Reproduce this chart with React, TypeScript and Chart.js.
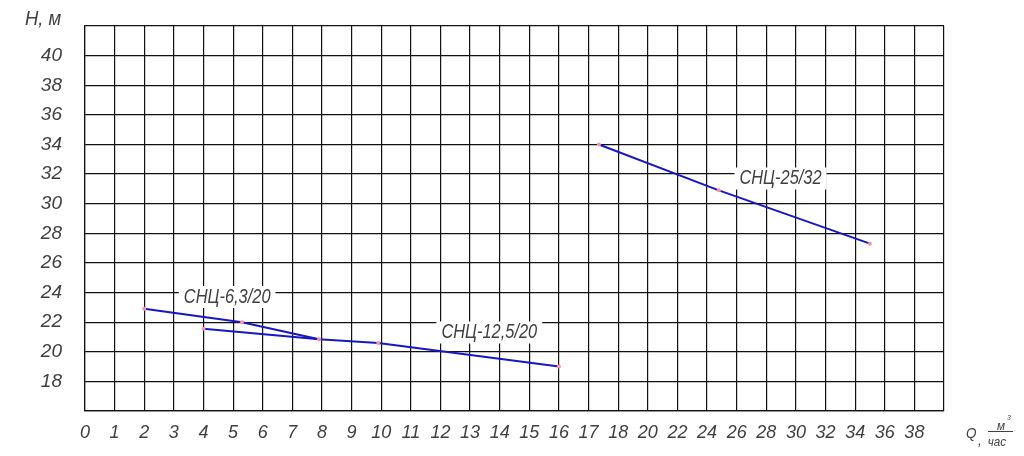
import React, { useEffect, useRef } from "react";
import { Chart, registerables } from "chart.js";

Chart.register(...registerables);

// X axis tick labels (grid index -> printed Q value)
const xTickLabels = [
  "0", "1", "2", "3", "4", "5", "6", "7", "8", "9", "10", "11", "12", "13", "14",
  "15", "16", "17", "18", "20", "22", "24", "26", "28", "30", "32", "34", "36", "38",
];
// Y axis tick labels
const yTickLabels = [18, 20, 22, 24, 26, 28, 30, 32, 34, 36, 38, 40];

// Series: Q (m3/h) and H (m)
const seriesNames = ["СНЦ-6,3/20", "СНЦ-12,5/20", "СНЦ-25/32"];
const q63 = [2, 5.3, 7.9];
const h63 = [22.9, 22.0, 20.85];
const q125 = [4, 7.9, 9.9, 16];
const h125 = [21.55, 20.85, 20.6, 19.0];
const q2532 = [17.35, 24.8, 35];
const h2532 = [34.0, 30.9, 27.3];

// Series caption anchors (Q, H)
const captionQ = [4.8, 13.65, 28.96];
const captionH = [23.7, 21.3, 31.7];

const FONT = "'Liberation Sans', Arial, sans-serif";
const TEXT = "#404040";
const LINE = "#1717c4";
const POINT = "#ff8fa8";
const CLEAR = "rgba(0,0,0,0)";

// The drawing's Q axis: unit steps up to 18, then steps of 2 per grid cell
const toGrid = (q: number) => (q <= 18 ? q : 18 + (q - 18) / 2);

const mk = (qs: number[], hs: number[]) => qs.map((q, i) => ({ x: toGrid(q), y: hs[i] }));

// draw horizontally condensed italic text (imitates the narrow drafting font)
const narrowText = (ctx: any, s: string, x: number, y: number, size: number, align: string, sx = 0.82) => {
  ctx.save();
  ctx.translate(x, y);
  ctx.scale(sx, 1);
  ctx.font = `italic ${size}px ${FONT}`;
  ctx.textAlign = align;
  ctx.textBaseline = "middle";
  ctx.fillText(s, 0, 0);
  ctx.restore();
};

const overlay = {
  id: "overlay",
  beforeDatasetsDraw(chart: any) {
    const { ctx, scales } = chart;
    ctx.save();
    seriesNames.forEach((name, i) => {
      const px = scales.x.getPixelForValue(toGrid(captionQ[i]));
      const py = scales.y.getPixelForValue(captionH[i]);
      ctx.font = `italic 20px ${FONT}`;
      const w = ctx.measureText(name).width * 0.82 + 10;
      ctx.fillStyle = "#ffffff";
      ctx.fillRect(px - w / 2, py - 11, w, 22);
      ctx.fillStyle = TEXT;
      narrowText(ctx, name, px, py, 20, "center");
    });
    ctx.restore();
  },
  afterDraw(chart: any) {
    const { ctx } = chart;
    ctx.save();
    ctx.fillStyle = TEXT;
    narrowText(ctx, "H, м", 25, 19, 21, "left", 0.88);
    narrowText(ctx, "Q", 966, 434, 15, "left", 0.9);
    narrowText(ctx, ",", 978, 441, 15, "left", 0.9);
    narrowText(ctx, "м", 1001, 426, 13, "center", 0.9);
    narrowText(ctx, "3", 1009, 418, 7, "center", 0.9);
    narrowText(ctx, "час", 997, 442, 13, "center", 0.9);
    ctx.strokeStyle = TEXT;
    ctx.lineWidth = 1;
    ctx.beginPath();
    ctx.moveTo(988, 431.5);
    ctx.lineTo(1013, 431.5);
    ctx.stroke();
    ctx.restore();
  },
};

export default function App() {
  const ref = useRef<HTMLCanvasElement | null>(null);
  useEffect(() => {
    if (!ref.current) return;
    const ds = (label: string, data: any[]) => ({
      label,
      data,
      borderColor: LINE,
      backgroundColor: LINE,
      borderWidth: 2,
      pointRadius: 2,
      pointBackgroundColor: POINT,
      pointBorderColor: POINT,
      pointBorderWidth: 0,
      tension: 0,
      fill: false,
    });
    const chart = new Chart(ref.current, {
      type: "line",
      data: {
        datasets: [
          ds(seriesNames[0], mk(q63, h63)),
          ds(seriesNames[1], mk(q125, h125)),
          ds(seriesNames[2], mk(q2532, h2532)),
        ],
      },
      options: {
        animation: false,
        responsive: true,
        maintainAspectRatio: false,
        layout: { padding: { top: 26, right: 80, left: 0, bottom: 0 } },
        plugins: { legend: { display: false }, tooltip: { enabled: false } },
        scales: {
          x: {
            type: "linear",
            min: 0,
            max: 29,
            afterFit: (s: any) => {
              s.height = 45;
            },
            grid: { color: "#111", lineWidth: 1.2, drawTicks: true, tickLength: 11, tickColor: CLEAR },
            border: { color: "#111", width: 1.2 },
            ticks: {
              stepSize: 1,
              autoSkip: false,
              maxRotation: 0,
              padding: 0,
              color: TEXT,
              font: { family: FONT, size: 18, style: "italic" },
              callback: (v: any) => xTickLabels[Math.round(Number(v))] ?? "",
            },
          },
          y: {
            type: "linear",
            min: 16,
            max: 42,
            afterFit: (s: any) => {
              s.width = 85;
            },
            grid: { color: "#111", lineWidth: 1.2, drawTicks: true, tickLength: 23, tickColor: CLEAR },
            border: { color: "#111", width: 1.2 },
            ticks: {
              stepSize: 2,
              padding: 0,
              color: TEXT,
              font: { family: FONT, size: 19, style: "italic" },
              callback: (v: any) => (yTickLabels.includes(Number(v)) ? String(v) : ""),
            },
          },
        },
      },
      plugins: [overlay],
    });
    return () => chart.destroy();
  }, []);
  return (
    <div style={{ position: "fixed", left: 0, top: 0, width: 1024, height: 456, background: "#fff" }}>
      <canvas ref={ref} />
    </div>
  );
}
